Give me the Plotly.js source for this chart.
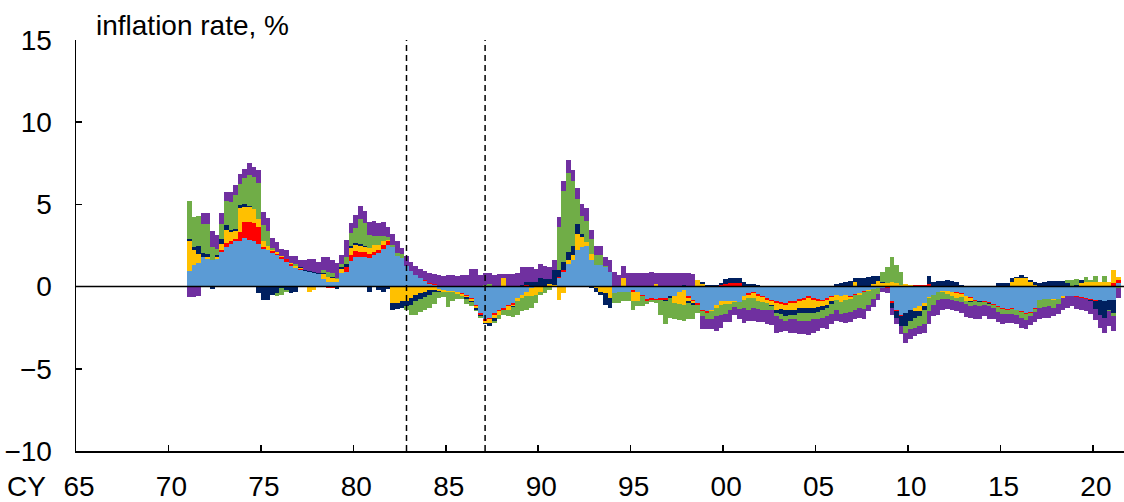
<!DOCTYPE html>
<html>
<head>
<meta charset="utf-8">
<script src="https://cdn.plot.ly/plotly-3.0.1.min.js"></script>
<style>
html,body{margin:0;padding:0;background:#fff;}
#chart{width:1124px;height:502px;}
</style>
</head>
<body>
<div id="chart"></div>
<script>
// Quarterly data, 1971Q1 .. 2021Q2 (202 quarters)
const startYear = 1971;
const startQuarter = 1;

const seriesNames = ["s1", "s2", "s3", "s4", "s5", "s6"];
const seriesColors = ["#5B9BD5", "#FF0000", "#FFC000", "#002060", "#70AD47", "#7030A0"];

const blue = [
 .97,1.32,1.42,1.83,1.7,1.6,1.7,2.1,2.43,2.6,
 2.75,2.8,2.95,2.85,2.75,2.6,2.3,2.2,2.05,1.9,
 1.7,1.5,1.25,1.15,1.0,.95,.9,.85,.75,.45,
 .3,.3,.25,.8,.9,1.55,1.8,1.8,1.8,1.75,
 1.9,2.05,2.3,2.55,2.4,1.85,1.75,1.25,.95,.7,
 .55,.35,.15,.1,-.15,-.2,-.25,-.25,-.3,-.4,
 -.5,-.7,-1.1,-1.6,-2.0,-1.9,-1.6,-1.4,-1.3,-1.1,
 -1.0,-.7,-.5,-.3,-.1,0,0,0,0,0,
 .5,.9,1.4,1.6,2.2,2.4,2.45,1.6,1.3,1.3,
 1.2,.9,-.4,-.3,-.3,-.3,-.2,-.3,-.5,-.75,
 -.7,-.75,-.7,-.7,-.6,-.6,-.3,-.2,-.6,-.8,
 -1.0,-1.4,-1.5,-1.4,-1.1,-.9,-.85,-.85,-.85,-.95,
 -.6,-.4,-.3,-.45,-.55,-.7,-.8,-.9,-.95,-1.0,
 -.9,-.9,-.75,-.7,-.6,-.7,-.75,-.8,-.7,-.6,
 -.5,-.55,-.5,-.55,-.45,-.4,-.25,-.2,-.15,-.1,
 -.1,-.05,-.9,-1.4,-1.7,-1.6,-1.4,-1.3,-1.2,-1.0,
 -.65,-.5,-.3,-.25,-.25,-.3,-.35,-.4,-.6,-.65,
 -.8,-.85,-.9,-.95,-1.05,-1.2,-1.3,-1.35,-1.3,-1.4,
 -1.5,-1.6,-1.55,-1.3,-.8,-.75,-.75,-.75,-.75,-.6,
 -.55,-.55,-.6,-.65,-.7,-.75,-.8,-.8,-.9,-.8,
 -.8,.2
];

const red = [
 0,0,0,0,0,0,0,.15,.2,.15,
 .15,.5,1.0,1.05,1.1,1.0,.1,0,.1,.1,
 .1,.15,.15,0,.05,0,0,0,0,-.05,
 -.1,-.1,0,0,.3,.35,.35,.3,.3,.25,
 .2,.2,.25,.25,0,0,0,0,0,0,
 0,.05,.05,.05,.05,.05,.05,.05,0,-.05,
 -.05,-.05,-.1,-.1,-.1,-.1,-.1,-.1,-.1,-.1,
 -.1,0,0,.1,.05,0,0,0,0,0,
 .1,.1,0,0,.05,0,0,0,0,0,
 0,0,0,0,0,0,-.1,0,-.1,-.1,
 -.1,-.05,-.1,-.1,0,0,-.05,0,-.1,-.1,
 -.1,-.1,-.1,0,0,.1,.15,.2,.2,.2,
 0,-.1,-.1,-.1,-.1,-.1,-.1,-.1,-.1,-.1,
 -.1,-.1,-.1,-.1,-.1,-.1,-.1,-.1,-.1,-.05,
 0,0,0,-.1,-.05,0,-.05,0,.05,.05,
 0,-.05,-.1,-.1,-.1,0,0,.1,.1,.1,
 .15,0,0,0,0,0,-.05,-.05,0,-.05,
 -.05,-.05,-.05,-.05,-.05,-.05,-.05,-.05,-.05,-.05,
 -.05,-.05,-.05,-.05,0,0,0,0,0,0,
 0,0,-.05,-.05,-.05,-.05,-.05,0,0,0,
 .2,.2
];

const yellow = [
 1.83,.91,.57,0,.1,0,.1,.35,.8,.55,
 .5,1.5,.9,.95,.9,.5,.35,.3,.1,.1,
 .05,0,.05,.1,.1,0,-.3,-.2,0,.3,
 .3,.2,.2,.3,0,.45,.4,.4,.3,.35,
 .45,.3,.2,.05,-1.0,-1.0,-.9,-.9,-.7,-.5,
 -.4,-.3,-.2,-.2,-.1,-.15,-.1,-.1,-.15,-.1,
 -.1,-.15,-.1,0,-.1,-.2,-.2,-.2,.5,-.2,
 -.1,-.2,-.2,-.3,-.5,-.5,-.3,0,.15,.1,
 -.8,-.4,.2,.3,.95,.6,.25,.4,-.1,-.3,
 -.4,-.7,0,0,.5,0,-.6,-.6,0,0,
 0,.15,0,0,0,-.4,-.7,-.9,-.2,-.1,
 .4,.15,0,-.1,-.2,-.2,-.2,-.2,-.1,0,
 -.2,-.2,-.3,-.3,-.3,-.2,-.2,-.4,-.3,-.3,
 -.4,-.4,-.45,-.5,-.6,-.5,-.4,-.3,-.3,-.25,
 -.3,-.4,-.3,-.1,.25,-.1,-.05,-.05,.1,.3,
 .2,.2,.3,.2,.1,.15,.1,-.2,-.3,-.2,
 -.05,0,0,-.1,-.2,-.3,-.3,-.2,-.25,-.2,
 0,0,0,0,0,0,0,0,.3,.5,
 .55,.5,.3,.1,0,0,0,-.05,0,-.1,
 -.05,0,0,.2,.3,.3,.3,.3,.3,.3,
 .8,.2
];

const navy = [
 .08,.2,.45,.24,.2,-.15,.1,.3,.3,.15,
 .1,.15,.15,.05,-.05,-.4,-.8,-.8,-.5,-.4,
 -.1,-.2,-.4,-.3,.05,.05,.05,.05,.1,.05,
 0,.1,-.15,.1,.2,.1,.1,.1,.05,-.3,
 0,-.2,-.3,-.15,-.4,-.35,-.4,-.3,-.4,-.4,
 -.35,-.35,-.3,-.15,-.05,0,0,0,0,-.05,
 -.1,-.05,-.1,-.1,-.1,-.2,-.2,0,0,0,
 -.05,0,.1,.2,.25,.3,.5,.45,.3,.9,
 .4,.5,.5,.6,.6,.2,0,-.1,-.2,-.2,
 -.7,-.6,0,0,0,0,0,.05,0,0,
 .05,0,0,-.05,-.1,0,.05,.1,-.1,-.1,
 0,.15,.1,.1,.1,.1,.3,.3,.3,.3,
 .3,.15,.15,.1,.05,0,-.05,-.2,-.3,-.4,
 -.3,-.3,-.3,-.3,-.3,-.3,-.3,-.2,-.2,-.15,
 .15,.2,.3,.35,.3,.5,.5,.6,.5,.3,
 .1,0,-.3,-.4,-.6,-.8,-.7,-.4,-.3,-.2,
 .5,.3,.35,.35,.4,.35,.3,.1,0,-.05,
 -.05,-.05,0,-.05,0,.2,.2,.2,.2,.1,
 .15,.1,.1,.15,.2,.3,.35,.35,.35,.35,
 .2,0,.1,.2,0,-.1,-.5,-.9,-1.0,-.6,
 -.8,0
];

const green = [
 2.35,1.83,1.83,1.74,1.8,.8,.4,.9,1.5,1.7,
 2.1,1.3,1.6,1.9,1.9,2.2,1.0,.9,.1,-.2,
 -.4,-.1,0,.1,0,0,0,0,0,.2,
 .3,.2,.1,.2,.4,.8,.9,1.5,1.4,.8,
 .55,.5,.3,.15,.15,.2,.25,-.2,-.6,-.8,
 -.8,-.8,-.8,-.7,-.4,-.3,-.9,-.5,-.3,-.15,
 -.3,-.2,-.1,-.1,.1,.15,-.1,-.3,-.3,-.4,
 -.6,-.8,-.8,-.8,-.7,-.5,-.2,-.4,-.2,0,
 2.6,4.3,4.8,3.9,1.5,1.1,1.3,.9,.6,.6,
 .05,0,-.6,-.7,-.6,-.6,-.5,-.3,-.6,-.2,
 -.15,-.2,-.9,-1.4,-1.2,-1.0,-1.0,-1.0,-1.0,-.9,
 -.5,-.3,-.4,-.5,-.5,-.6,-.6,-.4,-.3,-.4,
 -.5,-.7,-.6,-.5,-.5,-.4,-.3,-.2,-.3,-.3,
 -.3,-.3,-.5,-.5,-.5,-.4,-.4,-.5,-.5,-.6,
 -.6,-.7,-.8,-.8,-.9,-.8,-1.0,-.85,-.6,-.35,
 .6,1.0,1.5,1.1,.8,-.4,-.5,-.6,-.6,-.9,
 -.8,-.6,-.5,-.4,-.3,-.2,-.2,-.3,-.2,-.25,
 -.2,-.2,-.15,-.15,-.2,-.3,-.3,-.25,-.3,-.25,
 -.35,-.4,-.2,-.2,-.5,-.5,-.45,-.5,-.3,0,
 .2,.4,.35,0,.3,.1,.35,0,.35,-.1,
 -.2,-.1
];

const purple = [
 -.65,-.65,-.6,.69,.7,1.0,.85,.7,.5,.6,
 .6,.6,.55,.7,.6,.8,.8,.8,.6,.6,
 .45,.55,.4,.5,.4,.6,.75,.75,.65,.8,
 .9,.8,.9,.5,1.05,.6,.8,.8,.75,.8,
 .9,.8,.85,.6,.65,.7,.35,.6,.55,.55,
 .5,.55,.6,.6,.65,.6,.65,.65,.65,.7,
 .7,1.1,1.1,.7,.7,.7,.7,.75,.25,.75,
 .75,.8,1.1,.9,.9,.8,.9,.8,.75,.6,
 .65,.6,.8,.7,.7,.7,.8,.55,.55,.55,
 .55,.7,.9,.7,.75,.8,.85,.8,.85,.85,
 .85,.7,.85,.85,.8,.8,.8,.75,.8,.75,
 0,-.75,-.6,-.6,-.9,-.8,-.5,-.7,-.5,-.6,
 -.9,-.7,-.8,-.8,-.7,-.9,-.9,-1.0,-.8,-.6,
 -.85,-.85,-.8,-.8,-.85,-.85,-.75,-.6,-.8,-.6,
 -.7,-.5,-.6,-.6,-.6,-.6,-.6,-.4,-.5,-.35,
 -.25,-.3,-.4,-.4,-.5,-.6,-.6,-.5,-.5,-.5,
 -.8,-.7,-.9,-.7,-.6,-.6,-.6,-.65,-.8,-.7,
 -.9,-.85,-.7,-.8,-.7,-.6,-.65,-.55,-.55,-.6,
 -.6,-.55,-.55,-.6,-.7,-.65,-.7,-.5,-.6,-.75,
 -.7,-.65,-.7,-.7,-.75,-.75,-.7,-.8,-.9,-.9,
 -.9,-.6
];

const tickYears = [1965,1970,1975,1980,1985,1990,1995,2000,2005,2010,2015,2020];
const tickLabels = ["65","70","75","80","85","90","95","00","05","10","15","20"];
const yTicks = [-10,-5,0,5,10,15];
const markerQuarters = [1982.875, 1987.125];

// quarter positions (bar centres, in calendar years)
const xq = blue.map((_, k) => startYear + (startQuarter - 1) / 4 + k / 4 + 0.125);

const allSeries = [blue, red, yellow, navy, green, purple];
const traces = allSeries.map((vals, s) => ({
  type: "bar",
  name: seriesNames[s],
  x: xq,
  y: vals,
  width: 0.25,
  marker: { color: seriesColors[s], line: { width: 0 } },
  hoverinfo: "x+y"
}));

const FONT = "Liberation Sans, Arial, sans-serif";
const FS = 28;

const shapes = markerQuarters.map(q => ({
  type: "line", xref: "x", yref: "y",
  x0: q, x1: q, y0: -10, y1: 15,
  line: { color: "#000", width: 1.5, dash: "6px,4px" },
  layer: "above"
}));
shapes.push({
  type: "line", xref: "paper", yref: "y",
  x0: 0, x1: 1, y0: 0, y1: 0,
  line: { color: "#000", width: 1.5 },
  layer: "above"
});

const layout = {
  width: 1124, height: 502,
  margin: { l: 76, r: 0, t: 40, b: 51, pad: 0 },
  paper_bgcolor: "#fff", plot_bgcolor: "#fff",
  barmode: "relative", bargap: 0,
  showlegend: false,
  font: { family: FONT, size: FS, color: "#000" },
  xaxis: {
    range: [1965, 2021.68],
    tickmode: "array", tickvals: tickYears, ticktext: tickLabels,
    ticks: "inside", ticklen: 6, tickwidth: 1.5, tickcolor: "#000",
    showline: true, linecolor: "#000", linewidth: 1.5,
    showgrid: false, zeroline: false,
    tickfont: { family: FONT, size: FS, color: "#000" },
    ticklabelstandoff: 10,
    ticklabelshift: 3
  },
  yaxis: {
    range: [-10, 15],
    tickmode: "array", tickvals: yTicks,
    ticks: "inside", ticklen: 6, tickwidth: 1.5, tickcolor: "#000",
    showline: true, linecolor: "#000", linewidth: 1.5,
    showgrid: false, zeroline: false,
    tickfont: { family: FONT, size: FS, color: "#000" },
    ticklabelstandoff: 17
  },
  shapes: shapes,
  annotations: [
    { text: "inflation rate, %", xref: "paper", yref: "paper",
      x: 0.0172, y: 1.036, xanchor: "left", yanchor: "middle",
      showarrow: false, font: { family: FONT, size: FS, color: "#000" } },
    { text: "CY", xref: "paper", yref: "paper",
      x: -0.068, y: -0.086, xanchor: "left", yanchor: "middle",
      showarrow: false, font: { family: FONT, size: FS, color: "#000" } }
  ]
};

Plotly.newPlot("chart", traces, layout, { displayModeBar: false, staticPlot: true });
</script>
</body>
</html>
